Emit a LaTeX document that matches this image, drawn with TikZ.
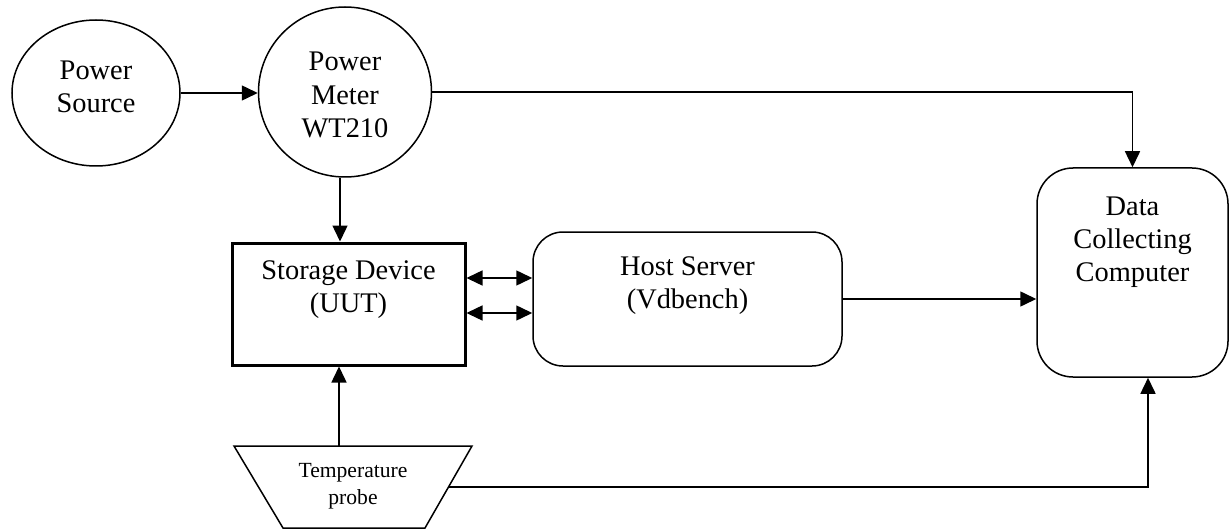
\documentclass[tikz,border=0pt]{standalone}
\usepackage{fontspec}
\setmainfont{Liberation Serif}
\usetikzlibrary{arrows.meta,shapes.geometric,calc}
\begin{document}
\begin{tikzpicture}[x=0.5pt,y=-0.5pt,
  line width=0.75pt,
  arr/.style={-{Triangle[length=8pt,width=7.5pt]}},
  darr/.style={{Triangle[length=8pt,width=7.5pt]}-{Triangle[length=8pt,width=7.5pt]}},
  txt/.style={align=center,font=\fontsize{14.2}{16.6}\selectfont,inner sep=0pt},
  smalltxt/.style={align=center,font=\fontsize{10.8}{13.5}\selectfont,inner sep=0pt},
  circ/.style={draw,ellipse,inner sep=0pt},
  rbox/.style={draw,rectangle,rounded corners=#1,inner sep=0pt}
]
\useasboundingbox (0,0) rectangle (1229,529);
% shapes
\node[circ,minimum width=84pt,minimum height=73pt] (ps) at (96,93) {};
\node[circ,minimum width=86.5pt,minimum height=85pt] (pm) at (345,92) {};
\node[draw,rectangle,line width=1.5pt,minimum width=116.5pt,minimum height=61pt,inner sep=0pt] (sd) at (348.5,304) {};
\node[rbox=15pt,minimum width=154.5pt,minimum height=67pt] (hs) at (687.5,299) {};
\node[rbox=18pt,minimum width=95.5pt,minimum height=104.5pt] (dc) at (1132.5,272.5) {};
% trapezoid (temperature probe)
\coordinate (tpTL) at (234,446);
\coordinate (tpTR) at (472,446);
\coordinate (tpBR) at (425,528);
\coordinate (tpBL) at (283,528);
\draw (tpTL) -- (tpTR) -- (tpBR) -- (tpBL) -- cycle;
\coordinate (tpTop) at (339,446);
\coordinate (tpRight) at ($(tpTR)!0.5!(tpBR)$);
% texts
\node[txt] (tps) at (96,87) {Power\\Source};
\node[txt] (tpm) at (345,95) {Power\\Meter\\WT210};
\node[txt] (tsd) at (348.5,290) {Storage Device\\(UUT)};
\node[txt] (ths) at (687.5,286) {Host Server\\(Vdbench)};
\node[txt] (tdc) at (1132.5,242) {Data\\Collecting\\Computer};
\node[smalltxt] (ttp) at (353,486) {Temperature\\probe};
% connectors
\draw[arr] (ps.east) -- (ps.east -| pm.west);
\draw[arr] ([xshift=-2.5pt]pm.south) -- ([xshift=-2.5pt]pm.south |- sd.north);
\draw[arr] (pm.east) -| (dc.north);
\draw[darr] (sd.east |- 0,278) -- (hs.west |- 0,278);
\draw[darr] (sd.east |- 0,313) -- (hs.west |- 0,313);
\draw[arr] (hs.east) -- (hs.east -| dc.west);
\draw[arr] (tpTop) -- (tpTop |- sd.south);
\draw[arr] (tpRight) -| ([xshift=7.75pt]dc.south);
\end{tikzpicture}
\end{document}
